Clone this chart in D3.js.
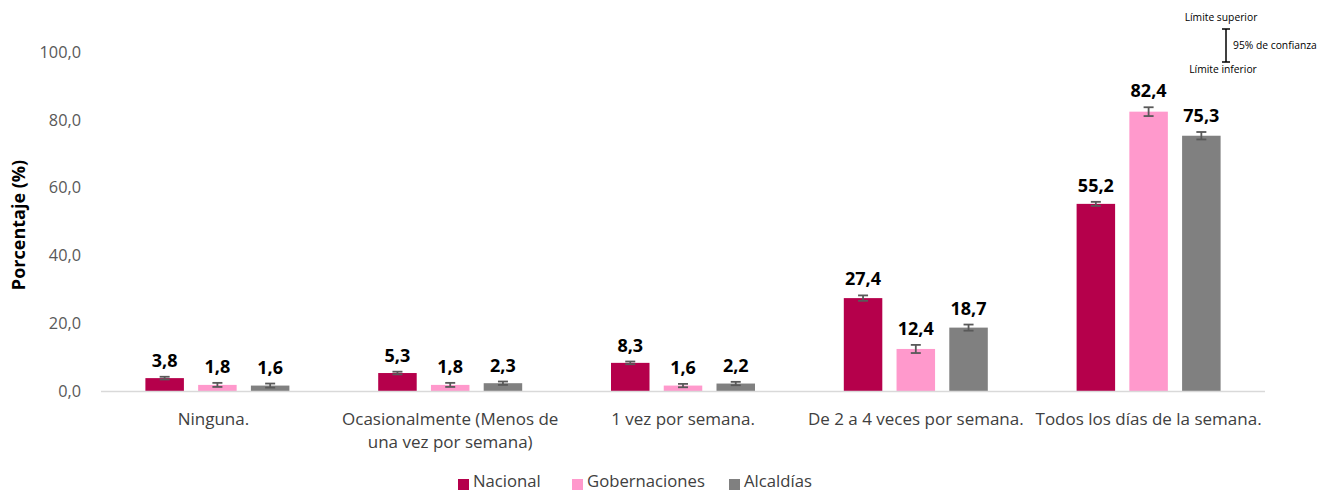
<!DOCTYPE html>
<html>
<head>
<meta charset="utf-8">
<script src="https://cdn.jsdelivr.net/npm/d3@7"></script>
<style>
  body { margin: 0; background: #fff; }
  svg { display: block; font-family: "Open Sans", "Noto Sans", sans-serif; }
</style>
</head>
<body>
<svg id="chart" width="1319" height="491"></svg>
<script>
const categories = [
  ["Ninguna."],
  ["Ocasionalmente (Menos de", "una vez por semana)"],
  ["1 vez por semana."],
  ["De 2 a 4 veces por semana."],
  ["Todos los días de la semana."]
];
const seriesNames = ["Nacional", "Gobernaciones", "Alcaldías"];
const seriesColors = ["#b5004b", "#ff99cc", "#808080"];
const nacional      = [3.8, 5.3, 8.3, 27.4, 55.2];
const gobernaciones = [1.8, 1.8, 1.6, 12.4, 82.4];
const alcaldias     = [1.6, 2.3, 2.2, 18.7, 75.3];
const nacionalErr      = [0.4, 0.4, 0.4, 0.8, 0.6];
const gobernacionesErr = [0.6, 0.6, 0.5, 1.2, 1.3];
const alcaldiasErr     = [0.6, 0.5, 0.5, 0.9, 1.1];
const yTicks = [0, 20, 40, 60, 80, 100];

const values = [nacional, gobernaciones, alcaldias];
const errs = [nacionalErr, gobernacionesErr, alcaldiasErr];

const svg = d3.select("#chart");
const fmt = v => d3.format(".1f")(v).replace(".", ",");

const x0 = d3.scaleBand().domain(d3.range(categories.length)).range([101, 1265]).paddingInner(0).paddingOuter(0);
const x1 = d3.scaleBand().domain(d3.range(3)).range([0, 144]).paddingInner(0.27);
const y = d3.scaleLinear().domain([0, 100]).range([391, 52]);

// y tick labels
svg.append("g").selectAll("text").data(yTicks).join("text")
  .attr("x", 81).attr("y", d => y(d)).attr("dy", "0.35em")
  .attr("text-anchor", "end").attr("font-size", 16.3).attr("fill", "#595959")
  .text(d => fmt(d));

// y axis title
svg.append("text")
  .attr("transform", `translate(25,225) rotate(-90)`)
  .attr("text-anchor", "middle").attr("font-size", 18).attr("font-weight", "bold").attr("fill", "#000")
  .text("Porcentaje (%)");

// bars
const groupOffset = (x0.bandwidth() - 144) / 2;
values.forEach((vals, s) => {
  const g = svg.append("g");
  vals.forEach((v, i) => {
    const bx = x0(i) + groupOffset + x1(s);
    const bw = x1.bandwidth();
    g.append("rect").attr("x", bx).attr("y", y(v)).attr("width", bw).attr("height", y(0) - y(v))
      .attr("fill", seriesColors[s]);
    const cx = bx + bw / 2;
    const e = errs[s][i];
    const eg = g.append("g").attr("stroke", "#595959").attr("stroke-width", 1.8);
    eg.append("line").attr("x1", cx).attr("x2", cx).attr("y1", y(v + e)).attr("y2", y(v - e));
    eg.append("line").attr("x1", cx - 5).attr("x2", cx + 5).attr("y1", y(v + e)).attr("y2", y(v + e));
    eg.append("line").attr("x1", cx - 5).attr("x2", cx + 5).attr("y1", y(v - e)).attr("y2", y(v - e));
    g.append("text").attr("x", cx).attr("y", y(v + e) - 10)
      .attr("text-anchor", "middle").attr("font-size", 18).attr("font-weight", "bold").attr("fill", "#000")
      .text(fmt(v));
  });
});

// x axis line
svg.append("line").attr("x1", 101).attr("x2", 1265).attr("y1", y(0) + 0.5).attr("y2", y(0) + 0.5)
  .attr("stroke", "#d9d9d9").attr("stroke-width", 1.5);

// category labels
categories.forEach((lines, i) => {
  const t = svg.append("text").attr("text-anchor", "middle").attr("font-size", 17).attr("fill", "#404040");
  lines.forEach((ln, k) => {
    t.append("tspan").attr("x", x0(i) + x0.bandwidth() / 2 - (i === 0 ? 4 : 0)).attr("y", 425 + k * 23).text(ln);
  });
});

// legend
const legendX = [458, 572, 729];
seriesNames.forEach((n, s) => {
  svg.append("rect").attr("x", legendX[s]).attr("y", 479).attr("width", 11).attr("height", 11).attr("fill", seriesColors[s]);
  svg.append("text").attr("x", legendX[s] + 15).attr("y", 486.5)
    .attr("font-size", 16.7).attr("fill", "#404040").text(n);
});

// confidence annotation
const ann = svg.append("g").attr("font-size", 10.3).attr("fill", "#000");
ann.append("text").attr("x", 1221).attr("y", 21).attr("text-anchor", "middle").text("Límite superior");
ann.append("text").attr("x", 1223).attr("y", 73).attr("text-anchor", "middle").text("Límite inferior");
ann.append("text").attr("x", 1233).attr("y", 49).text("95% de confianza");
const ig = svg.append("g").attr("stroke", "#000").attr("stroke-width", 1.5);
ig.append("line").attr("x1", 1226).attr("x2", 1226).attr("y1", 29).attr("y2", 62);
ig.append("line").attr("x1", 1222).attr("x2", 1230).attr("y1", 29).attr("y2", 29);
ig.append("line").attr("x1", 1222).attr("x2", 1230).attr("y1", 62).attr("y2", 62);
</script>
</body>
</html>
